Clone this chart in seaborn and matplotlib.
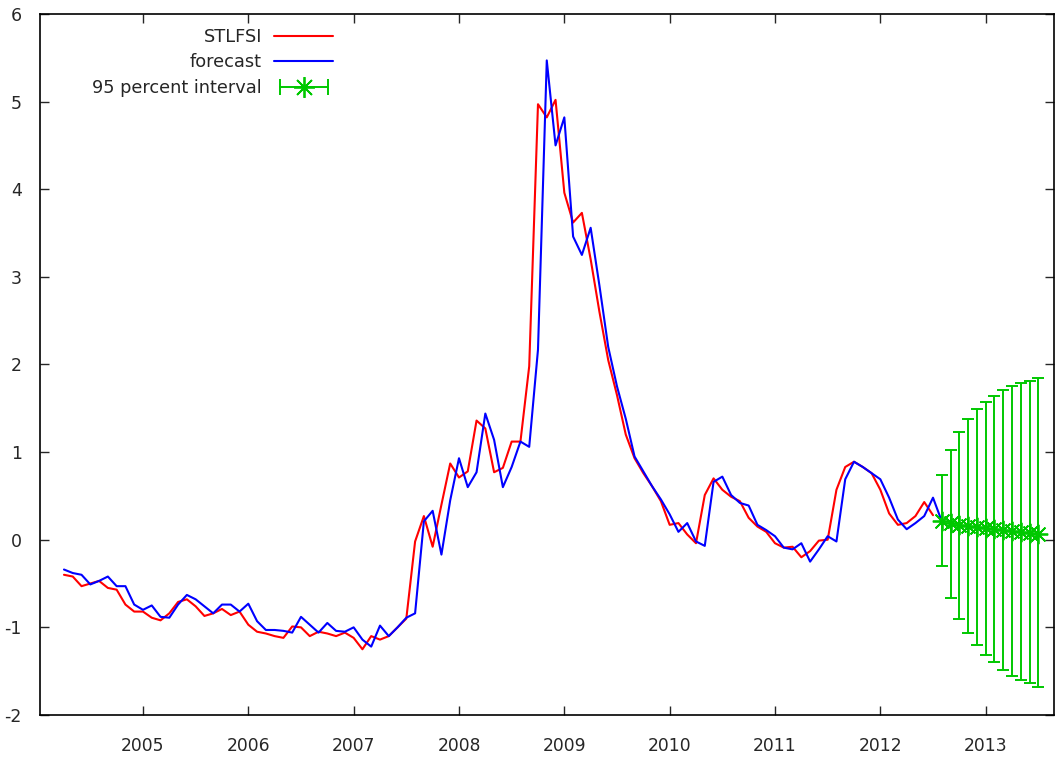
import matplotlib
matplotlib.use("Agg")
import numpy as np
import pandas as pd
import matplotlib.pyplot as plt
from matplotlib.lines import Line2D
from matplotlib.legend_handler import HandlerLine2D
import seaborn as sns

# Monthly St. Louis Fed Financial Stress Index, April 2004 - July 2012
start_year, start_month = 2004, 4
stlfsi = [
    -0.40, -0.42, -0.53, -0.50, -0.47, -0.55, -0.57, -0.74, -0.82,          # 2004
    -0.82, -0.89, -0.92, -0.84, -0.71, -0.68, -0.76, -0.87, -0.84, -0.79, -0.86, -0.82,  # 2005
    -0.97, -1.05, -1.07, -1.10, -1.12, -0.99, -1.00, -1.10, -1.05, -1.07, -1.10, -1.06,  # 2006
    -1.12, -1.25, -1.10, -1.14, -1.10, -1.00, -0.90, -0.02, 0.27, -0.08, 0.40, 0.87,     # 2007
    0.71, 0.78, 1.36, 1.27, 0.77, 0.82, 1.12, 1.12, 1.98, 4.97, 4.82, 5.02,              # 2008
    3.96, 3.62, 3.73, 3.20, 2.60, 2.05, 1.65, 1.20, 0.93, 0.76, 0.61, 0.44,              # 2009
    0.17, 0.19, 0.06, -0.04, 0.51, 0.70, 0.57, 0.49, 0.44, 0.25, 0.15, 0.09,             # 2010
    -0.04, -0.09, -0.08, -0.20, -0.13, -0.01, 0.00, 0.57, 0.83, 0.89, 0.83, 0.76,        # 2011
    0.57, 0.30, 0.17, 0.19, 0.27, 0.43, 0.28,                                            # 2012
]
# One-step-ahead forecasts, April 2004 - August 2012
forecast = [
    -0.34, -0.38, -0.40, -0.51, -0.47, -0.42, -0.53, -0.53, -0.74,
    -0.80, -0.75, -0.88, -0.89, -0.74, -0.63, -0.68, -0.76, -0.84, -0.74, -0.74, -0.82,
    -0.73, -0.93, -1.03, -1.03, -1.04, -1.06, -0.88, -0.97, -1.06, -0.95, -1.04, -1.05,
    -1.00, -1.14, -1.22, -0.98, -1.10, -1.00, -0.89, -0.84, 0.21, 0.33, -0.17, 0.45,
    0.93, 0.60, 0.77, 1.44, 1.14, 0.60, 0.83, 1.12, 1.06, 2.17, 5.47, 4.50,
    4.82, 3.46, 3.25, 3.56, 2.90, 2.20, 1.75, 1.38, 0.95, 0.78, 0.61, 0.46,
    0.29, 0.09, 0.19, -0.02, -0.07, 0.66, 0.72, 0.51, 0.42, 0.39, 0.17, 0.11,
    0.04, -0.09, -0.11, -0.04, -0.25, -0.11, 0.04, -0.02, 0.69, 0.89, 0.83, 0.76,
    0.69, 0.48, 0.23, 0.12, 0.19, 0.27, 0.48,
    0.21,
]
# Out-of-sample forecast, August 2012 - July 2013, with 95 percent bounds
fc_center = [0.21, 0.19, 0.17, 0.16, 0.15, 0.13, 0.12, 0.11, 0.10, 0.09, 0.08, 0.07]
fc_lower = [-0.30, -0.66, -0.90, -1.07, -1.20, -1.32, -1.40, -1.49, -1.55, -1.60, -1.64, -1.68]
fc_upper = [0.74, 1.02, 1.23, 1.38, 1.49, 1.57, 1.64, 1.71, 1.75, 1.79, 1.81, 1.84]

year_ticks = list(range(2005, 2014))
y_ticks = list(range(-2, 7))

RED, BLUE, GREEN = "#ff0000", "#0000ff", "#00c800"


def month_times(first_index, n):
    months = start_month - 1 + np.arange(first_index, first_index + n)
    return start_year + months / 12.0


df = pd.concat([
    pd.DataFrame({"time": month_times(0, len(stlfsi)), "value": stlfsi, "series": "STLFSI"}),
    pd.DataFrame({"time": month_times(0, len(forecast)), "value": forecast, "series": "forecast"}),
], ignore_index=True)
fc_time = month_times(len(stlfsi), len(fc_center))
fc_c = np.array(fc_center)
fc_err = [fc_c - np.array(fc_lower), np.array(fc_upper) - fc_c]

sns.set_style("ticks")
plt.rcParams["font.family"] = ["DejaVu Sans"]
plt.rcParams.update({
    "xtick.direction": "in", "ytick.direction": "in",
    "xtick.top": True, "ytick.right": True,
    "xtick.major.size": 6.5, "ytick.major.size": 6.5,
    "xtick.major.width": 1.0, "ytick.major.width": 1.0,
    "axes.linewidth": 1.2, "axes.edgecolor": "black",
})

fig = plt.figure(figsize=(10.57, 7.59), dpi=100)
ax = fig.add_axes([0.0378, 0.058, 0.9594, 0.9236])

sns.lineplot(data=df, x="time", y="value", hue="series",
             palette={"STLFSI": RED, "forecast": BLUE},
             hue_order=["STLFSI", "forecast"], linewidth=1.5,
             legend=False, ax=ax, sort=True, estimator=None)

star = (8, 2, 0)
ax.errorbar(fc_time, fc_center, yerr=fc_err, fmt="none", ecolor=GREEN,
            elinewidth=1.4, capsize=4.5, capthick=1.4, zorder=4)
ax.plot(fc_time, fc_center, ls="none", marker=star, ms=14, mew=1.3,
        color=GREEN, zorder=5)

ax.set_xlim(2004.022, 2013.649)
ax.set_ylim(-2, 6)
ax.set_xticks(year_ticks)
ax.set_xticklabels([str(y) for y in year_ticks])
ax.set_yticks(y_ticks)
ax.set_yticklabels([str(v) for v in y_ticks])
ax.tick_params(axis="x", pad=16, labelsize=12.3)
ax.tick_params(axis="y", pad=13, labelsize=12.5)
ax.set_xlabel("")
ax.set_ylabel("")
for s in ax.spines.values():
    s.set_visible(True)

h_red = Line2D([], [], color=RED, lw=1.5)
h_blue = Line2D([], [], color=BLUE, lw=1.5)
h_caps = Line2D([], [], color=GREEN, lw=1.4, marker="|", ms=11, mew=1.4)
h_star = Line2D([], [], color=GREEN, ls="none", marker=star, ms=15, mew=1.3)
ax.legend([h_red, h_blue, (h_caps, h_star)],
          ["STLFSI", "forecast", "95 percent interval"],
          handler_map={h_caps: HandlerLine2D(numpoints=2)},
          numpoints=1, loc="upper right", bbox_to_anchor=(0.289, 0.980),
          frameon=False, markerfirst=False, handlelength=3.3,
          handletextpad=0.7, labelspacing=0.42, fontsize=12.8,
          borderpad=0, borderaxespad=0)

fig.savefig("out.png", dpi=100)
